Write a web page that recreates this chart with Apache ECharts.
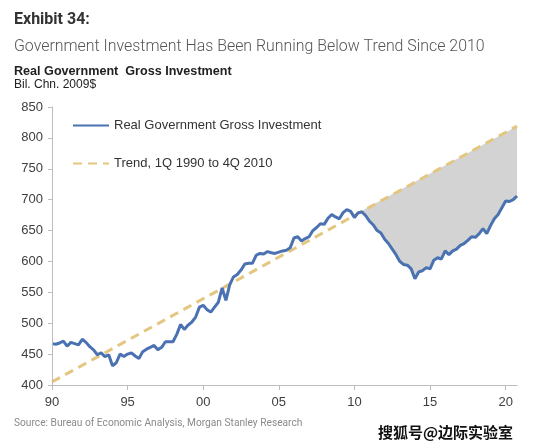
<!DOCTYPE html>
<html>
<head>
<meta charset="utf-8">
<script src="https://cdn.jsdelivr.net/npm/echarts@6/dist/echarts.min.js"></script>
<style>
  html, body { margin: 0; padding: 0; background: #fff; }
  #chart { width: 554px; height: 448px; }
</style>
</head>
<body>
<div id="chart"></div>
<script>
// ---- Data ----
const seriesName = 'Real Government Gross Investment';
const trendName = 'Trend, 1Q 1990 to 4Q 2010';

// [year, Bil. Chn. 2009$], quarterly
const investment = [
  [1990.00, 467], [1990.25, 466], [1990.50, 468], [1990.75, 471],
  [1991.00, 463], [1991.25, 469], [1991.50, 467], [1991.75, 465],
  [1992.00, 474], [1992.25, 469], [1992.50, 462], [1992.75, 457],
  [1993.00, 449], [1993.25, 452], [1993.50, 446], [1993.75, 449],
  [1994.00, 431], [1994.25, 436], [1994.50, 450], [1994.75, 446],
  [1995.00, 450], [1995.25, 452], [1995.50, 447], [1995.75, 443],
  [1996.00, 454], [1996.25, 458], [1996.50, 461], [1996.75, 464],
  [1997.00, 457], [1997.25, 461], [1997.50, 470], [1997.75, 470],
  [1998.00, 470], [1998.25, 482], [1998.50, 498], [1998.75, 490],
  [1999.00, 497], [1999.25, 502], [1999.50, 510], [1999.75, 526],
  [2000.00, 529], [2000.25, 522], [2000.50, 518], [2000.75, 526],
  [2001.00, 534], [2001.25, 557], [2001.50, 537], [2001.75, 562],
  [2002.00, 575], [2002.25, 579], [2002.50, 586], [2002.75, 596],
  [2003.00, 597], [2003.25, 597], [2003.50, 610], [2003.75, 613],
  [2004.00, 612], [2004.25, 616], [2004.50, 614], [2004.75, 613],
  [2005.00, 615], [2005.25, 617], [2005.50, 618], [2005.75, 622],
  [2006.00, 638], [2006.25, 640], [2006.50, 633], [2006.75, 637],
  [2007.00, 640], [2007.25, 650], [2007.50, 655], [2007.75, 661],
  [2008.00, 660], [2008.25, 670], [2008.50, 676], [2008.75, 672],
  [2009.00, 669], [2009.25, 679], [2009.50, 684], [2009.75, 681],
  [2010.00, 671], [2010.25, 679], [2010.50, 680], [2010.75, 674],
  [2011.00, 665], [2011.25, 659], [2011.50, 650], [2011.75, 646],
  [2012.00, 636], [2012.25, 629], [2012.50, 620], [2012.75, 611],
  [2013.00, 600], [2013.25, 595], [2013.50, 594], [2013.75, 588],
  [2014.00, 572], [2014.25, 583], [2014.50, 585], [2014.75, 590],
  [2015.00, 588], [2015.25, 602], [2015.50, 606], [2015.75, 604],
  [2016.00, 617], [2016.25, 611], [2016.50, 617], [2016.75, 620],
  [2017.00, 626], [2017.25, 629], [2017.50, 634], [2017.75, 640],
  [2018.00, 639], [2018.25, 645], [2018.50, 653], [2018.75, 645],
  [2019.00, 658], [2019.25, 669], [2019.50, 676], [2019.75, 687],
  [2020.00, 698], [2020.25, 697], [2020.50, 700], [2020.75, 706]
];

// Trend line end points
const trend = [[1990.00, 405], [2020.75, 819]];
// Trend segment above the shortfall (shaded gap starts where lines cross)
const trendGap = [[2010.25, 679], [2020.75, 819]];
const gapMaskStartYear = 2010.0;

// Axis ticks
const xTicks = [1990, 1995, 2000, 2005, 2010, 2015, 2020];
const xTickLabels = ['90', '95', '00', '05', '10', '15', '20'];

const actualGap = investment.filter(p => p[0] >= gapMaskStartYear);

const chart = echarts.init(document.getElementById('chart'), null, { renderer: 'canvas' });

const font = 'Arial, "Liberation Sans", sans-serif';

chart.setOption({
  animation: false,
  backgroundColor: '#ffffff',
  textStyle: { fontFamily: font },
  title: [
    { text: 'Exhibit 34:', left: 14, top: 12, padding: 0,
      textStyle: { fontFamily: 'Roboto, Arial, sans-serif', fontSize: 16, fontWeight: 'bold', color: '#333333' } },
    { text: 'Government Investment Has Been Running Below Trend Since 2010', left: 14, top: 39, padding: 0,
      textStyle: { fontFamily: 'Roboto, Arial, sans-serif', fontSize: 15.9, fontWeight: 300, color: '#555555' } },
    { text: 'Real Government  Gross Investment', left: 14, top: 65, padding: 0,
      textStyle: { fontFamily: font, fontSize: 12.6, fontWeight: 'bold', color: '#222222' } },
    { text: 'Bil. Chn. 2009$', left: 14, top: 79, padding: 0,
      textStyle: { fontFamily: font, fontSize: 12, fontWeight: 'normal', color: '#222222' } },
    { text: 'Source: Bureau of Economic Analysis, Morgan Stanley Research', left: 14, top: 418, padding: 0,
      textStyle: { fontFamily: 'Roboto, Arial, sans-serif', fontSize: 10.2, fontWeight: 'normal', color: '#8a8a8a' } }
  ],
  grid: { left: 52, right: 37, top: 107, bottom: 63, containLabel: false },
  legend: {
    data: [seriesName, trendName],
    orient: 'vertical',
    left: 67, top: 114,
    itemWidth: 36, itemHeight: 14, itemGap: 25, itemTextGap: 5,
    itemStyle: { opacity: 0, borderWidth: 0 },
    textStyle: { fontFamily: font, fontSize: 13, color: '#333333' }
  },
  xAxis: {
    type: 'value',
    min: 1990, max: 2020.75,
    z: 5,
    axisLine: { show: true, lineStyle: { color: '#bdbdbd', width: 1 } },
    axisTick: { show: true, length: 5, inside: false, customValues: xTicks, lineStyle: { color: '#bdbdbd' } },
    axisLabel: {
      customValues: xTicks,
      margin: 11, fontSize: 13, color: '#404040', fontFamily: font,
      formatter: v => xTickLabels[xTicks.indexOf(v)] || ''
    },
    splitLine: { show: false }
  },
  yAxis: {
    type: 'value',
    min: 400, max: 850, interval: 50,
    z: 5,
    axisLine: { show: true, lineStyle: { color: '#bdbdbd', width: 1 } },
    axisTick: { show: true, length: 4, lineStyle: { color: '#bdbdbd' } },
    axisLabel: { margin: 9, fontSize: 13, color: '#404040', fontFamily: font },
    splitLine: { show: false }
  },
  series: [
    {
      name: 'gapTop', type: 'line', data: trendGap, symbol: 'none', silent: true,
      lineStyle: { width: 0, color: '#d3d3d3' },
      areaStyle: { color: '#d3d3d3', opacity: 1, origin: 'start' },
      z: 1
    },
    {
      name: 'gapBottom', type: 'line', data: actualGap, symbol: 'none', silent: true,
      lineStyle: { width: 0, color: '#ffffff' },
      areaStyle: { color: '#ffffff', opacity: 1, origin: 'start' },
      z: 2
    },
    {
      name: trendName, type: 'line', data: trend, symbol: 'none',
      lineStyle: { width: 3, color: '#e3c67f', type: [9, 6] },
      itemStyle: { color: '#e3c67f' },
      z: 3
    },
    {
      name: seriesName, type: 'line', data: investment, symbol: 'none',
      lineStyle: { width: 3, color: '#4a72b2' },
      itemStyle: { color: '#4a72b2' },
      z: 4
    }
  ],
  graphic: [
    { type: 'text', left: 402, top: 199,
      style: { text: '~$1.25 trillion', font: 'italic 13px Arial, "Liberation Sans", sans-serif', fill: '#333333' } },
    { type: 'text', left: 377, top: 424,
      style: { text: '搜狐号@边际实验室', font: 'bold 15px "Noto Sans CJK SC", sans-serif',
               fill: '#111111', stroke: '#ffffff', lineWidth: 2 } }
  ]
});
</script>
</body>
</html>
